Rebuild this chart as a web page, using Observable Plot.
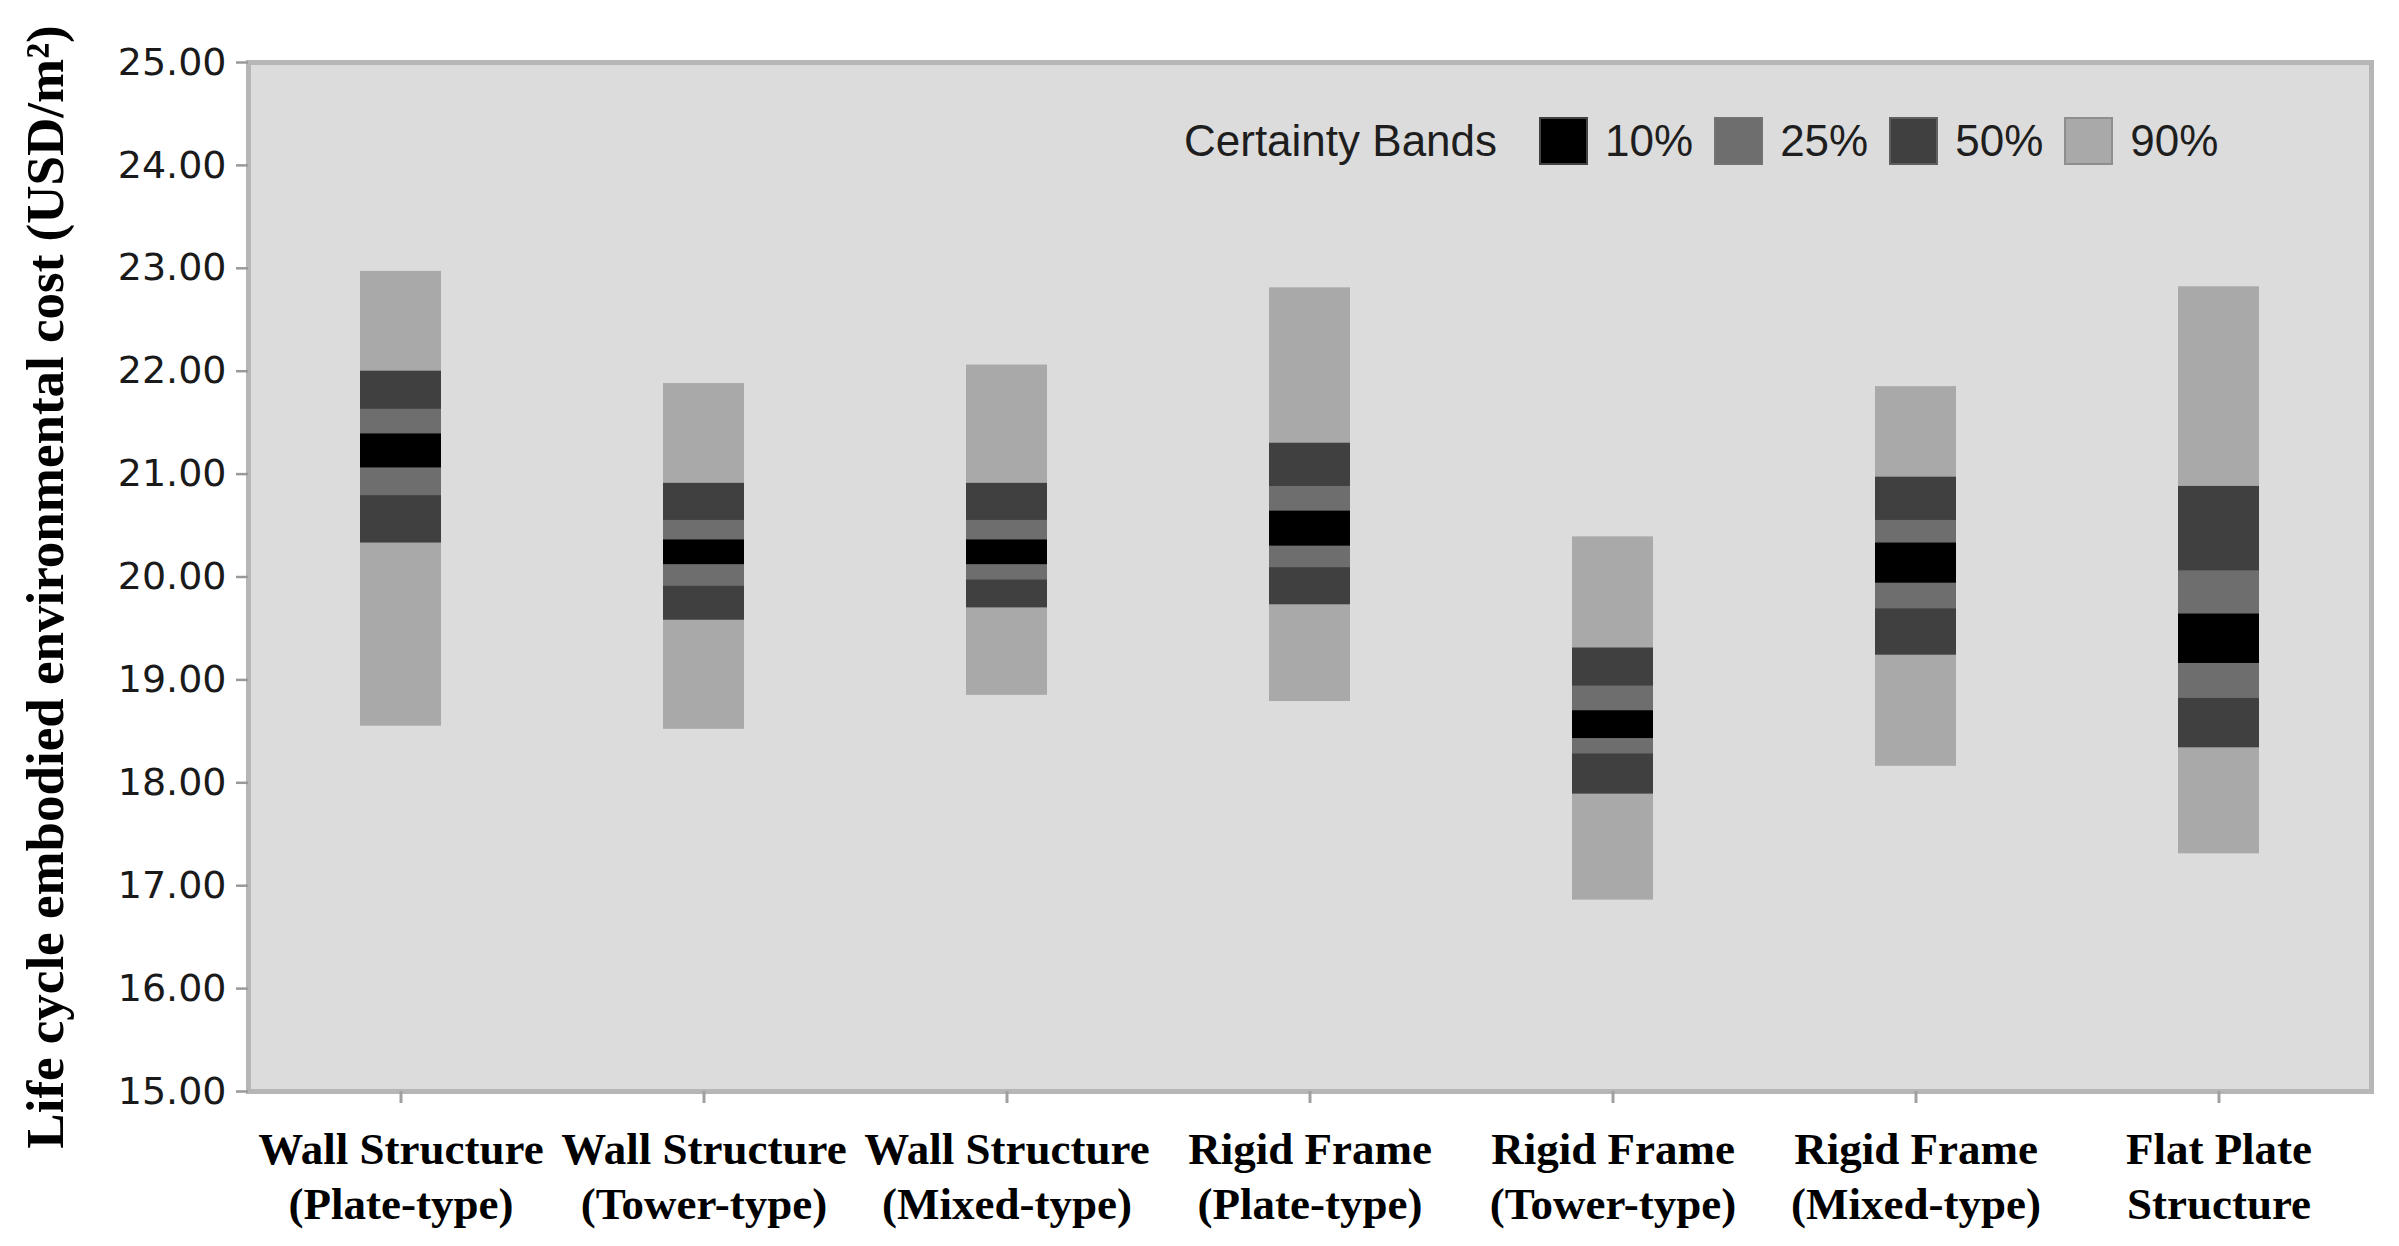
<!DOCTYPE html>
<html>
<head>
<meta charset="utf-8">
<script src="https://cdn.jsdelivr.net/npm/d3@7"></script>
<script src="https://cdn.jsdelivr.net/npm/@observablehq/plot@0.6"></script>
<style>
  html, body { margin: 0; padding: 0; background: #ffffff; }
  #wrap { position: relative; width: 2399px; height: 1246px; }
  #wrap svg { display: block; }
  #legend {
    position: absolute; left: 1184px; top: 117px; height: 47px;
    display: flex; align-items: center;
    font-family: "Liberation Sans", Arial, sans-serif; font-size: 44px; color: #1e1e1e;
  }
  #legend .title { margin-right: 42px; }
  #legend .sw { width: 45px; height: 44px; border: 2px solid rgba(120,120,120,0.55); box-sizing: content-box; margin-right: 17px; }
  #legend .lab { margin-right: 21px; }
</style>
</head>
<body>
<div id="wrap"></div>
<script>
// ---- data ----
const categories = [
  "Wall Structure\n(Plate-type)",
  "Wall Structure\n(Tower-type)",
  "Wall Structure\n(Mixed-type)",
  "Rigid Frame\n(Plate-type)",
  "Rigid Frame\n(Tower-type)",
  "Rigid Frame\n(Mixed-type)",
  "Flat Plate\nStructure"
];
// certainty band limits (USD/m²)
const band90High = [22.97, 21.88, 22.06, 22.81, 20.39, 21.85, 22.82];
const band50High = [22.00, 20.91, 20.91, 21.30, 19.31, 20.97, 20.88];
const band25High = [21.63, 20.55, 20.55, 20.88, 18.94, 20.55, 20.06];
const band10High = [21.39, 20.36, 20.36, 20.64, 18.70, 20.33, 19.64];
const band10Low  = [21.06, 20.12, 20.12, 20.30, 18.43, 19.94, 19.16];
const band25Low  = [20.79, 19.91, 19.97, 20.09, 18.28, 19.69, 18.82];
const band50Low  = [20.33, 19.58, 19.70, 19.73, 17.89, 19.24, 18.34];
const band90Low  = [18.55, 18.52, 18.85, 18.79, 16.86, 18.16, 17.31];

const bandNames  = ["10%", "25%", "50%", "90%"];
const bandColors = ["#000000", "#6e6e6e", "#404040", "#a9a9a9"];
const yTicks = [15, 16, 17, 18, 19, 20, 21, 22, 23, 24, 25];
const yTitle = "Life cycle embodied environmental cost (USD/m²)";
const legendTitle = "Certainty Bands";

// table for the marks (widest band drawn first)
const limits = {
  "90%": [band90Low, band90High],
  "50%": [band50Low, band50High],
  "25%": [band25Low, band25High],
  "10%": [band10Low, band10High]
};
const rows = [];
for (const b of ["90%", "50%", "25%", "10%"]) {
  categories.forEach((c, i) => rows.push({cat: c, band: b, lo: limits[b][0][i], hi: limits[b][1][i]}));
}

const chart = Plot.plot({
  width: 2399,
  height: 1246,
  marginLeft: 248,
  marginRight: 28,
  marginTop: 62,
  marginBottom: 155,
  style: {background: "#ffffff", overflow: "visible"},
  x: {domain: categories, padding: 0, label: null},
  y: {domain: [15, 25], label: null},
  color: {domain: bandNames, range: bandColors},
  marks: [
    Plot.frame({fill: "#dcdcdc"}),
    Plot.barY(rows, {x: "cat", y1: "lo", y2: "hi", fill: "band", insetLeft: 111, insetRight: 111}),
    Plot.frame({stroke: "#b6b6b6", strokeWidth: 5}),
    Plot.axisY({
      ticks: yTicks, tickFormat: d3.format(".2f"), tickSize: 12, tickPadding: 10,
      fontSize: 38, fontFamily: "DejaVu Sans", fill: "#1a1a1a", stroke: "#999999", strokeWidth: 2.5,
      label: null
    }),
    Plot.axisX({
      tickSize: 12, tickPadding: 22, lineHeight: 1.22,
      fontSize: 45, fontFamily: "Liberation Serif", fontWeight: "bold", fill: "#000000",
      stroke: "#a0a0a0", strokeWidth: 3, label: null
    }),
    Plot.text([yTitle], {
      frameAnchor: "left", rotate: -90, dx: -202, dy: 10,
      fontSize: 53, fontFamily: "Liberation Serif", fontWeight: "bold", fill: "#000000",
      textAnchor: "middle", lineAnchor: "middle"
    })
  ]
});

const wrap = document.getElementById("wrap");
wrap.appendChild(chart);

// legend inside the plot area
const legend = document.createElement("div");
legend.id = "legend";
const t = document.createElement("span");
t.className = "title";
t.textContent = legendTitle;
legend.appendChild(t);
bandNames.forEach((name, i) => {
  const sw = document.createElement("span");
  sw.className = "sw";
  sw.style.background = bandColors[i];
  legend.appendChild(sw);
  const lab = document.createElement("span");
  lab.className = "lab";
  lab.textContent = name;
  legend.appendChild(lab);
});
wrap.appendChild(legend);
</script>
</body>
</html>
